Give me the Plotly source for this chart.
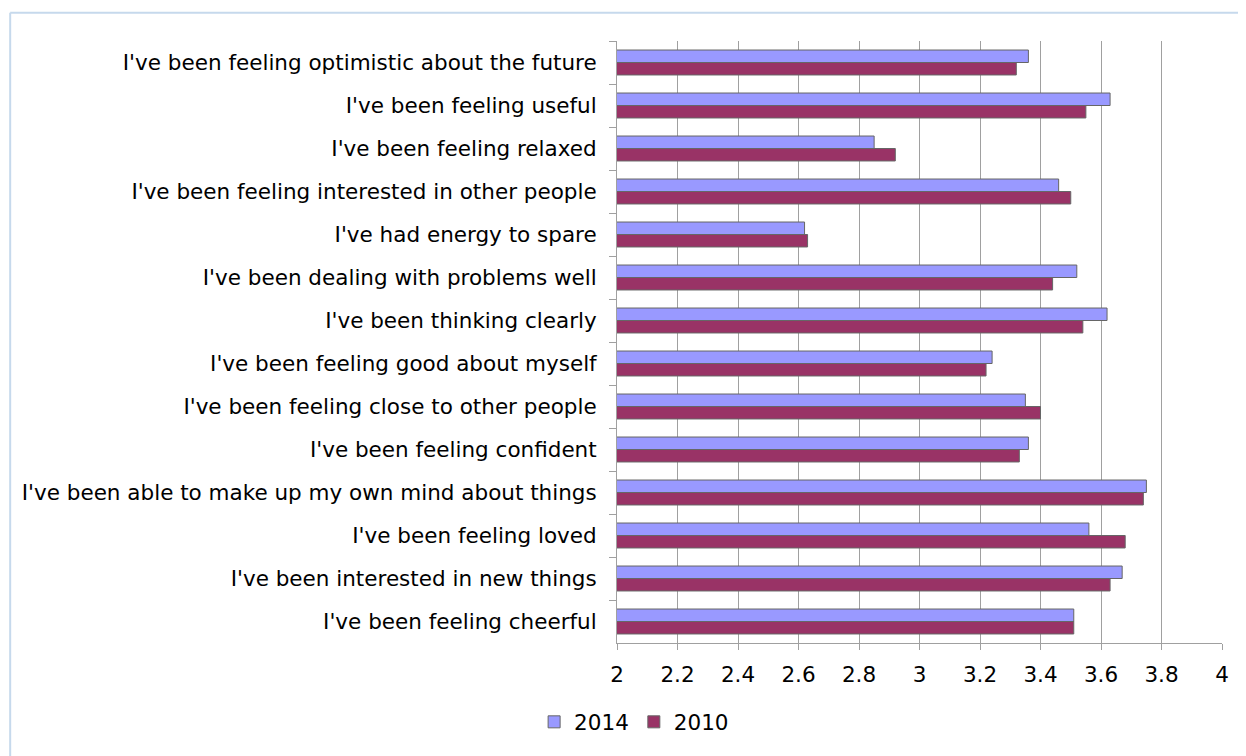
import plotly.graph_objects as go

categories = [
    "I've been feeling optimistic about the future",
    "I've been feeling useful",
    "I've been feeling relaxed",
    "I've been feeling interested in other people",
    "I've had energy to spare",
    "I've been dealing with problems well",
    "I've been thinking clearly",
    "I've been feeling good about myself",
    "I've been feeling close to other people",
    "I've been feeling confident",
    "I've been able to make up my own mind about things",
    "I've been feeling loved",
    "I've been interested in new things",
    "I've been feeling cheerful",
]
values_2014 = [3.36, 3.63, 2.85, 3.46, 2.62, 3.52, 3.62, 3.24, 3.35, 3.36, 3.75, 3.56, 3.67, 3.51]
values_2010 = [3.32, 3.55, 2.92, 3.50, 2.63, 3.44, 3.54, 3.22, 3.40, 3.33, 3.74, 3.68, 3.63, 3.51]
x_ticks = [2, 2.2, 2.4, 2.6, 2.8, 3, 3.2, 3.4, 3.6, 3.8, 4]

FONT = "DejaVu Sans"
SIZE = 21.5

fig = go.Figure()
fig.add_trace(
    go.Bar(
        y=categories,
        x=values_2014,
        orientation="h",
        name="2014",
        marker=dict(color="#9999ff", line=dict(color="#666666", width=1)),
    )
)
fig.add_trace(
    go.Bar(
        y=categories,
        x=values_2010,
        orientation="h",
        name="2010",
        marker=dict(color="#993366", line=dict(color="#666666", width=1)),
    )
)

# light blue chart frame (left and top edges visible)
frame = "#c6d9ec"
fig.add_shape(type="line", xref="paper", yref="paper", x0=-1.003, x1=-1.003,
              y0=-0.2, y1=1.047, line=dict(color=frame, width=2))
fig.add_shape(type="line", xref="paper", yref="paper", x0=-1.003, x1=1.1,
              y0=1.047, y1=1.047, line=dict(color=frame, width=2))

# page body has an 8px margin, so the figure is a bit smaller than the window
fig.update_layout(
    width=1238,
    height=748,
    margin=dict(l=609, r=24, t=33, b=113),
    paper_bgcolor="white",
    plot_bgcolor="white",
    barmode="group",
    bargap=0.42,
    bargroupgap=0,
    font=dict(family=FONT, size=SIZE, color="#000000"),
    showlegend=True,
    legend=dict(
        orientation="h",
        x=-0.137,
        y=-0.131,
        xanchor="left",
        yanchor="middle",
        font=dict(size=SIZE),
        itemwidth=30,
    ),
    xaxis=dict(
        range=[2, 4],
        tickvals=x_ticks,
        ticktext=[f"{v:g}" for v in x_ticks],
        showgrid=True,
        gridcolor="#a0a0a0",
        gridwidth=1,
        showline=True,
        linecolor="#a0a0a0",
        ticks="outside",
        ticklen=6,
        tickcolor="#a0a0a0",
        ticklabelstandoff=6,
        zeroline=False,
    ),
    yaxis=dict(
        autorange="reversed",
        showgrid=False,
        showline=True,
        linecolor="#a0a0a0",
        ticks="outside",
        ticklen=7,
        tickcolor="#a0a0a0",
        tickson="boundaries",
        ticklabelstandoff=15,
    ),
)

fig.write_html("out.html")
